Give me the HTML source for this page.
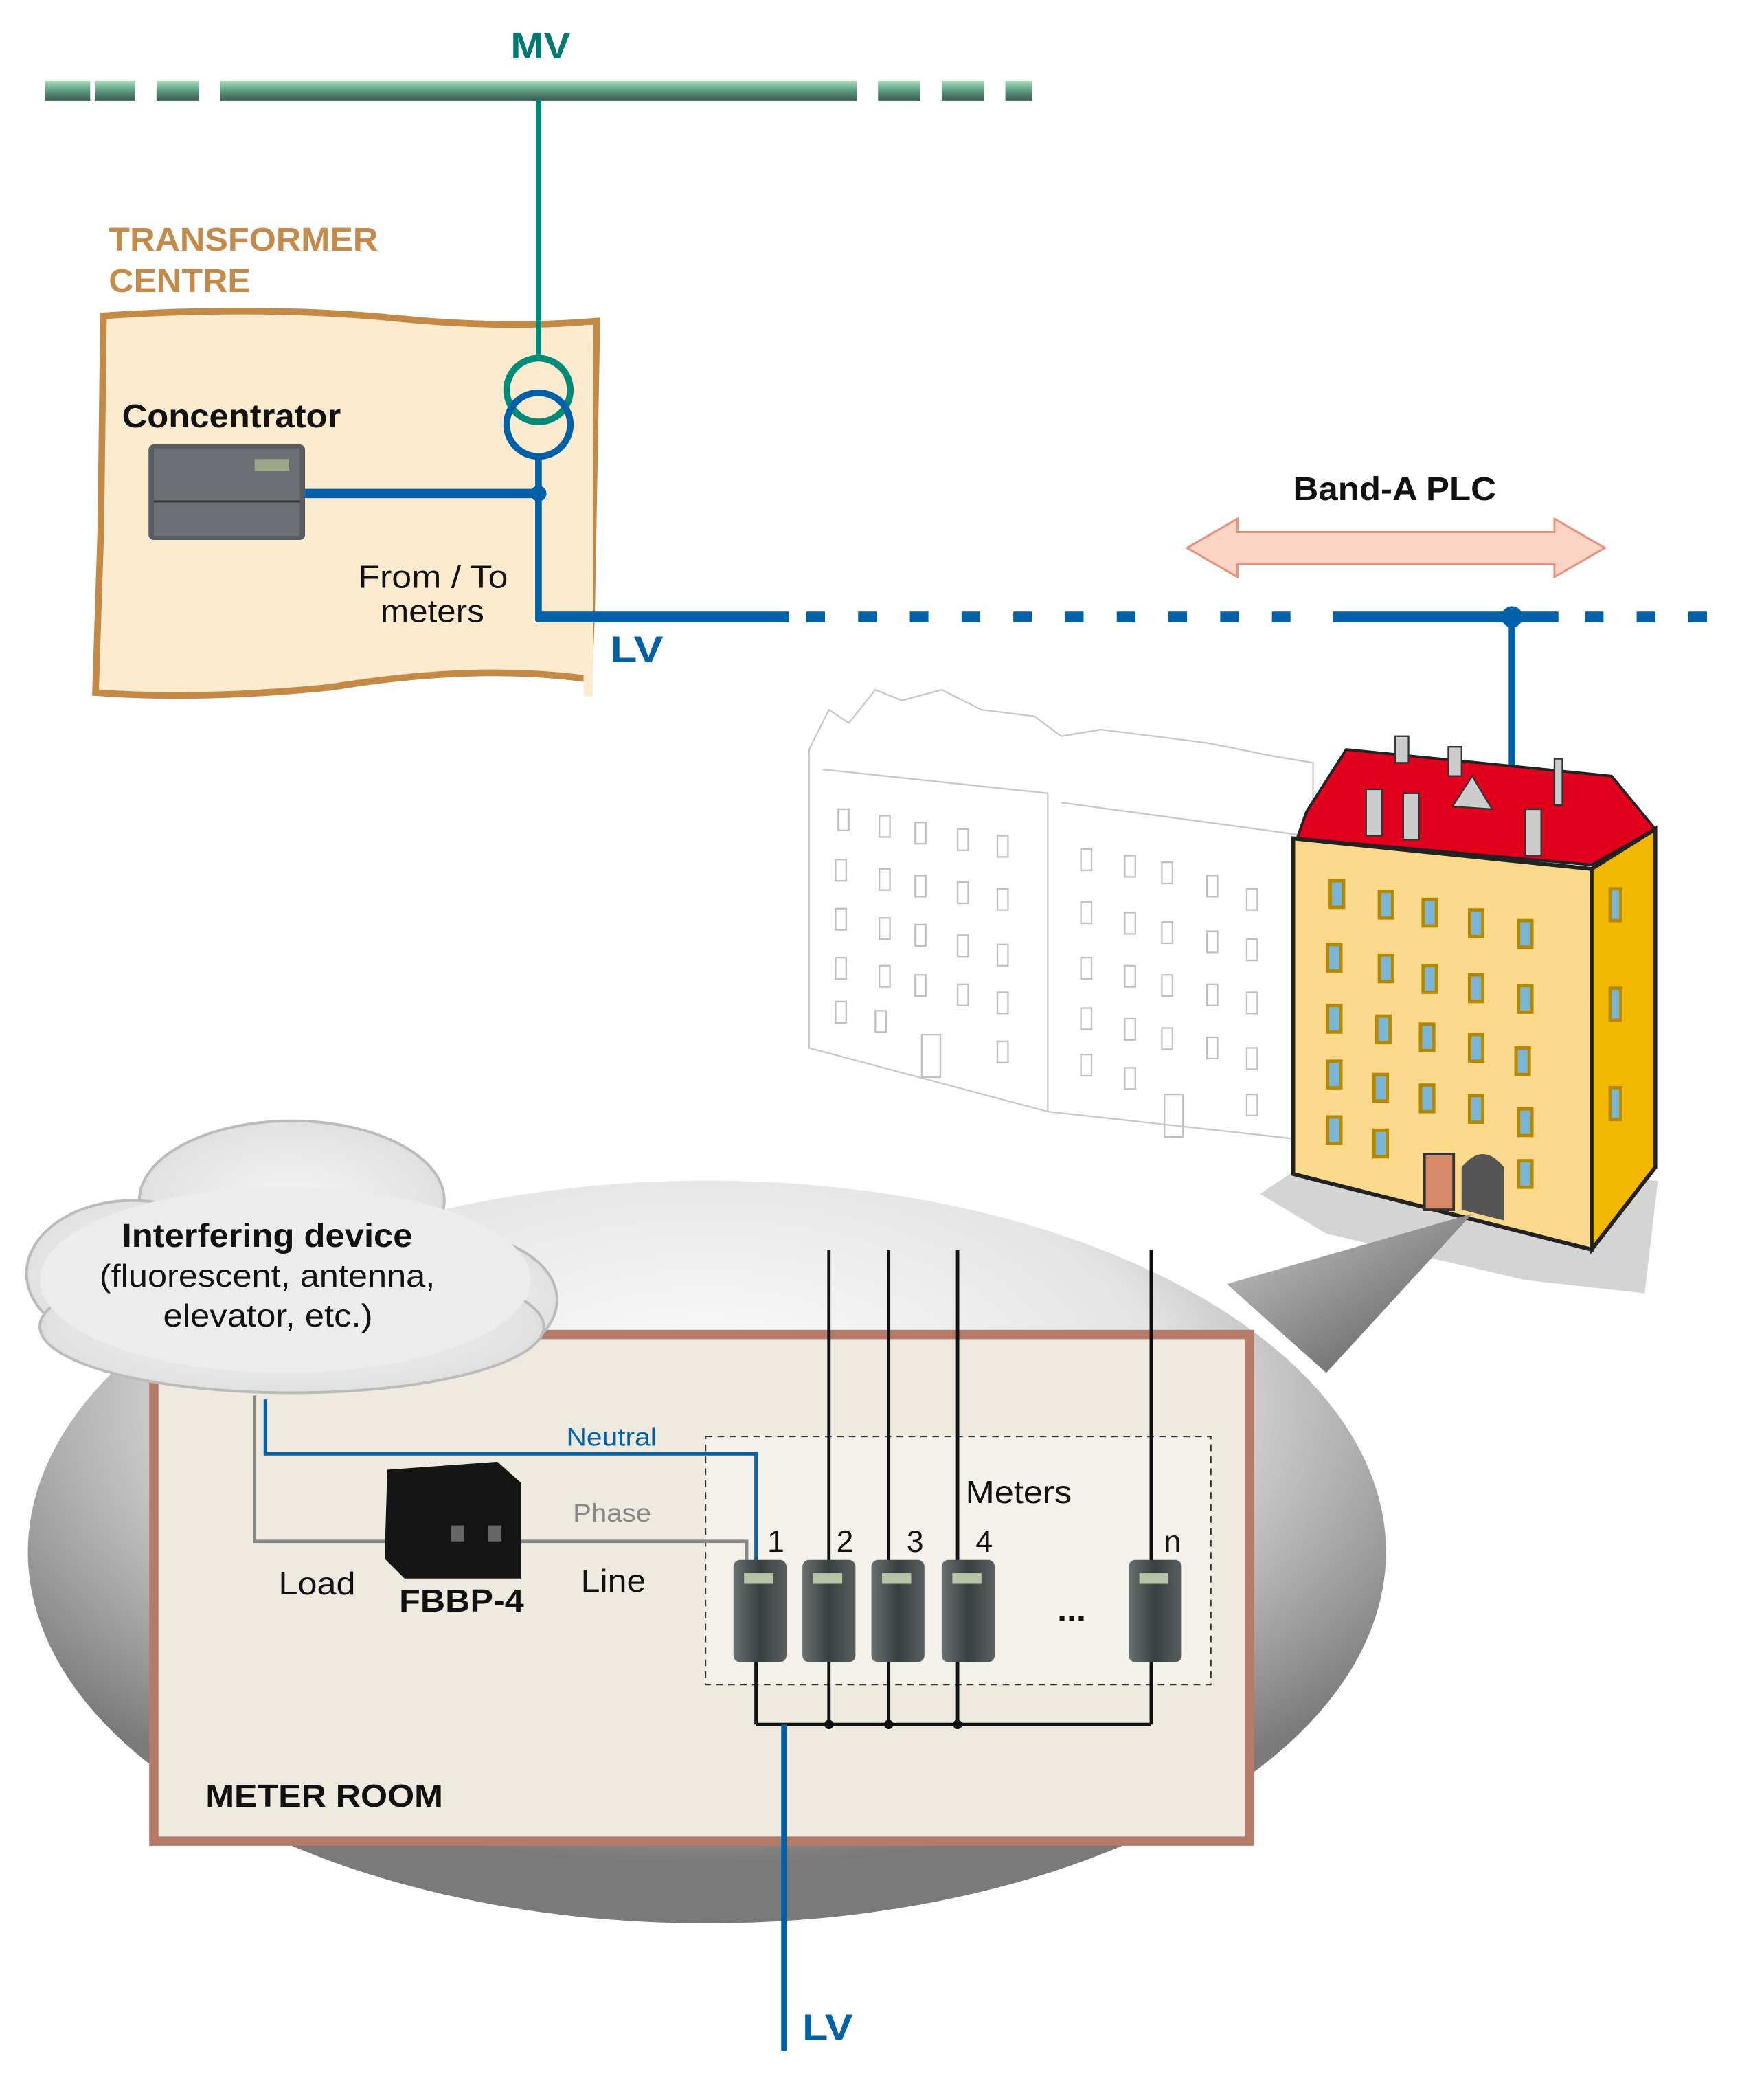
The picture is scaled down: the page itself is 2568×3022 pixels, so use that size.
<!DOCTYPE html>
<html><head><meta charset="utf-8"><style>
html,body{margin:0;padding:0;background:#fff;}
svg{display:block;}
text{font-family:"Liberation Sans",Arial,sans-serif;}
</style></head><body>
<svg width="2568" height="3022" viewBox="0 0 1330 1565" xmlns="http://www.w3.org/2000/svg">
<defs>
<linearGradient id="mv" x1="0" y1="0" x2="0" y2="1"><stop offset="0" stop-color="#a8dcb8"/><stop offset="0.5" stop-color="#5a9a80"/><stop offset="1" stop-color="#3a5a50"/></linearGradient>
<radialGradient id="ell" cx="0.5" cy="0.3" r="0.62"><stop offset="0" stop-color="#ffffff"/><stop offset="0.55" stop-color="#e4e4e4"/><stop offset="1" stop-color="#7a7a7a"/></radialGradient>
<linearGradient id="cone" x1="0" y1="0" x2="1" y2="1"><stop offset="0" stop-color="#c8c8c8"/><stop offset="1" stop-color="#555"/></linearGradient>
<linearGradient id="met" x1="0" y1="0" x2="1" y2="0"><stop offset="0" stop-color="#6a7070"/><stop offset="0.5" stop-color="#3a4040"/><stop offset="1" stop-color="#5a6060"/></linearGradient>
<radialGradient id="cl" cx="0.5" cy="0.5" r="0.6"><stop offset="0" stop-color="#f4f4f4"/><stop offset="0.8" stop-color="#e2e2e2"/><stop offset="1" stop-color="#c8c8c8"/></radialGradient>
</defs>

<!-- MV -->
<text x="385" y="44" font-size="28" font-weight="bold" fill="#007a70" textLength="45" lengthAdjust="spacingAndGlyphs">MV</text>
<g fill="url(#mv)">
<rect x="34" y="61" width="34" height="15"/><rect x="72" y="61" width="30" height="15"/><rect x="118" y="61" width="32" height="15"/>
<rect x="166" y="61" width="480" height="15"/><rect x="662" y="61" width="32" height="15"/><rect x="710" y="61" width="32" height="15"/><rect x="758" y="61" width="20" height="15"/>
</g>

<!-- transformer centre -->
<text x="82" y="189" font-size="25" font-weight="bold" fill="#c38a4a" textLength="203" lengthAdjust="spacingAndGlyphs">TRANSFORMER</text>
<text x="82" y="220" font-size="25" font-weight="bold" fill="#c38a4a" textLength="107" lengthAdjust="spacingAndGlyphs">CENTRE</text>
<path d="M78,238 Q200,230 300,240 Q380,248 450,242 L446,465 L444,512 Q360,500 250,518 Q150,528 72,522 L76,400 Z" fill="#fdebd0" stroke="#c48a45" stroke-width="5"/>
<rect x="440" y="245" width="7" height="280" fill="#fdebd0"/>
<line x1="406" y1="75" x2="406" y2="270" stroke="#008a78" stroke-width="4"/>
<circle cx="406" cy="294" r="24" fill="none" stroke="#008a78" stroke-width="5"/>
<circle cx="406" cy="320" r="24" fill="none" stroke="#0060a8" stroke-width="5"/>
<text x="92" y="322" font-size="25" font-weight="bold" fill="#111" textLength="165" lengthAdjust="spacingAndGlyphs">Concentrator</text>
<rect x="112" y="335" width="118" height="72" rx="4" fill="#585c60"/>
<rect x="116" y="338" width="110" height="66" fill="#6b6f73"/>
<line x1="116" y1="378" x2="226" y2="378" stroke="#333" stroke-width="1.5"/>
<rect x="192" y="346" width="26" height="9" fill="#9aa88a"/>
<line x1="230" y1="372" x2="406" y2="372" stroke="#0060a8" stroke-width="7"/>
<line x1="406" y1="344" x2="406" y2="468" stroke="#0060a8" stroke-width="5"/>
<circle cx="406" cy="372" r="6" fill="#0060a8"/>
<text x="270" y="443" font-size="24" fill="#111" textLength="113" lengthAdjust="spacingAndGlyphs">From / To</text>
<text x="287" y="469" font-size="24" fill="#111" textLength="78" lengthAdjust="spacingAndGlyphs">meters</text>
<text x="460" y="499" font-size="28" font-weight="bold" fill="#0060a8" textLength="40" lengthAdjust="spacingAndGlyphs">LV</text>

<!-- LV line -->
<line x1="404" y1="465" x2="595" y2="465" stroke="#0060a8" stroke-width="8"/>
<line x1="608" y1="465" x2="990" y2="465" stroke="#0060a8" stroke-width="8" stroke-dasharray="14,25"/>
<line x1="1005" y1="465" x2="1175" y2="465" stroke="#0060a8" stroke-width="8"/>
<line x1="1195" y1="465" x2="1312" y2="465" stroke="#0060a8" stroke-width="8" stroke-dasharray="14,25"/>
<circle cx="1140" cy="465" r="8" fill="#0060a8"/>
<line x1="1140" y1="465" x2="1140" y2="585" stroke="#0060a8" stroke-width="5"/>

<!-- Band-A PLC -->
<text x="975" y="377" font-size="25" font-weight="bold" fill="#111" textLength="153" lengthAdjust="spacingAndGlyphs">Band-A PLC</text>
<path d="M895,413 L933,391 L933,401 L1172,401 L1172,391 L1210,413 L1172,435 L1172,425 L933,425 L933,435 Z" fill="#fcd5c5" stroke="#e8907a" stroke-width="1.5"/>

<!-- white buildings -->
<g fill="#fff" stroke="#c8c8c8" stroke-width="1.2">
<path d="M610,565 L625,535 L640,545 L660,520 L680,528 L710,520 L740,535 L780,540 L800,555 L830,550 L870,555 L910,560 L960,570 L990,575 L990,860 L790,838 L610,790 Z"/>
<line x1="790" y1="598" x2="790" y2="838"/>
<line x1="620" y1="580" x2="790" y2="598"/><line x1="800" y1="605" x2="985" y2="630"/>
</g>
<g fill="none" stroke="#c0c0c0" stroke-width="1.2">
<rect x="632" y="610" width="8" height="16"/><rect x="663" y="615" width="8" height="16"/><rect x="690" y="620" width="8" height="16"/><rect x="722" y="625" width="8" height="16"/><rect x="752" y="630" width="8" height="16"/>
<rect x="630" y="648" width="8" height="16"/><rect x="663" y="655" width="8" height="16"/><rect x="690" y="660" width="8" height="16"/><rect x="722" y="665" width="8" height="16"/><rect x="752" y="670" width="8" height="16"/>
<rect x="630" y="685" width="8" height="16"/><rect x="663" y="692" width="8" height="16"/><rect x="690" y="697" width="8" height="16"/><rect x="722" y="705" width="8" height="16"/><rect x="752" y="712" width="8" height="16"/>
<rect x="630" y="722" width="8" height="16"/><rect x="663" y="728" width="8" height="16"/><rect x="690" y="735" width="8" height="16"/><rect x="722" y="742" width="8" height="16"/><rect x="752" y="748" width="8" height="16"/>
<rect x="630" y="755" width="8" height="16"/><rect x="660" y="762" width="8" height="16"/><rect x="695" y="780" width="14" height="32"/><rect x="752" y="785" width="8" height="16"/>
<rect x="815" y="640" width="8" height="16"/><rect x="848" y="645" width="8" height="16"/><rect x="876" y="650" width="8" height="16"/><rect x="910" y="660" width="8" height="16"/><rect x="940" y="670" width="8" height="16"/>
<rect x="815" y="680" width="8" height="16"/><rect x="848" y="688" width="8" height="16"/><rect x="876" y="695" width="8" height="16"/><rect x="910" y="702" width="8" height="16"/><rect x="940" y="708" width="8" height="16"/>
<rect x="815" y="722" width="8" height="16"/><rect x="848" y="728" width="8" height="16"/><rect x="876" y="735" width="8" height="16"/><rect x="910" y="742" width="8" height="16"/><rect x="940" y="748" width="8" height="16"/>
<rect x="815" y="760" width="8" height="16"/><rect x="848" y="768" width="8" height="16"/><rect x="876" y="775" width="8" height="16"/><rect x="910" y="782" width="8" height="16"/><rect x="940" y="790" width="8" height="16"/>
<rect x="815" y="795" width="8" height="16"/><rect x="848" y="805" width="8" height="16"/><rect x="878" y="825" width="14" height="32"/><rect x="940" y="825" width="8" height="16"/>
</g>

<!-- yellow building -->
<path d="M950,900 L980,880 L1250,890 L1240,975 L1150,965 L1000,930 Z" fill="#d4d4d4"/>
<path d="M985,612 L1015,565 L1215,585 L1248,625 L1200,652 L978,632 Z" fill="#e0001e" stroke="#222" stroke-width="2"/>
<g fill="#ccc" stroke="#333" stroke-width="1.2">
<rect x="1030" y="595" width="12" height="35"/><rect x="1058" y="598" width="12" height="35"/><rect x="1150" y="610" width="12" height="35"/><rect x="1052" y="555" width="10" height="20"/><rect x="1092" y="563" width="10" height="22"/><rect x="1172" y="572" width="6" height="35"/>
<path d="M1095,608 L1110,585 L1125,610 Z"/>
</g>
<path d="M975,632 L1200,655 L1200,942 L975,885 Z" fill="#fbd98c" stroke="#222" stroke-width="3"/>
<path d="M1200,655 L1248,625 L1248,880 L1200,942 Z" fill="#f2b800" stroke="#222" stroke-width="3"/>
<g fill="#7ab6d8" stroke="#b58800" stroke-width="2.5">
<rect x="1003" y="664" width="10" height="20"/><rect x="1040" y="672" width="10" height="20"/><rect x="1073" y="678" width="10" height="20"/><rect x="1108" y="686" width="10" height="20"/><rect x="1145" y="694" width="10" height="20"/>
<rect x="1001" y="712" width="10" height="20"/><rect x="1040" y="720" width="10" height="20"/><rect x="1073" y="728" width="10" height="20"/><rect x="1108" y="735" width="10" height="20"/><rect x="1145" y="743" width="10" height="20"/>
<rect x="1001" y="758" width="10" height="20"/><rect x="1038" y="766" width="10" height="20"/><rect x="1071" y="772" width="10" height="20"/><rect x="1108" y="780" width="10" height="20"/><rect x="1143" y="790" width="10" height="20"/>
<rect x="1001" y="800" width="10" height="20"/><rect x="1036" y="810" width="10" height="20"/><rect x="1071" y="818" width="10" height="20"/><rect x="1108" y="826" width="10" height="20"/><rect x="1145" y="836" width="10" height="20"/>
<rect x="1001" y="842" width="10" height="20"/><rect x="1036" y="852" width="10" height="20"/><rect x="1145" y="875" width="10" height="20"/>
<rect x="1214" y="670" width="8" height="24"/><rect x="1214" y="745" width="8" height="24"/><rect x="1214" y="820" width="8" height="24"/>
</g>
<rect x="1074" y="870" width="22" height="42" fill="#d88a6a" stroke="#333" stroke-width="2"/>
<path d="M1102,912 L1102,880 Q1118,860 1134,880 L1134,920 Z" fill="#555"/>

<!-- callout -->
<path d="M1110,915 L925,968 L1000,1035 Z" fill="url(#cone)"/>
<ellipse cx="533" cy="1170" rx="512" ry="280" fill="url(#ell)"/>

<!-- meter room -->
<rect x="116" y="1006" width="826" height="382" fill="#eeeae0" stroke="#b57a68" stroke-width="7"/>
<rect x="532" y="1083" width="381" height="187" fill="#f3f1ea" stroke="#333" stroke-width="1" stroke-dasharray="5,4"/>

<!-- cloud -->
<g fill="url(#cl)" stroke="#bbb" stroke-width="2">
<ellipse cx="220" cy="905" rx="115" ry="60"/>
<ellipse cx="100" cy="960" rx="80" ry="55"/>
<ellipse cx="340" cy="980" rx="80" ry="50"/>
<ellipse cx="220" cy="1000" rx="190" ry="50"/>
</g>
<ellipse cx="215" cy="965" rx="185" ry="70" fill="#ececec"/>
<text x="92" y="940" font-size="25" font-weight="bold" fill="#111" textLength="219" lengthAdjust="spacingAndGlyphs">Interfering device</text>
<text x="75" y="970" font-size="24" fill="#111" textLength="253" lengthAdjust="spacingAndGlyphs">(fluorescent, antenna,</text>
<text x="123" y="1000" font-size="24" fill="#111" textLength="158" lengthAdjust="spacingAndGlyphs">elevator, etc.)</text>

<!-- wiring -->
<polyline points="200,1055 200,1096 570,1096 570,1178" fill="none" stroke="#0060a8" stroke-width="2.5"/>
<polyline points="192,1052 192,1162 300,1162" fill="none" stroke="#888" stroke-width="2.5"/>
<polyline points="380,1162 563,1162 563,1178" fill="none" stroke="#888" stroke-width="2.5"/>
<text x="427" y="1090" font-size="19" fill="#0060a8" textLength="68" lengthAdjust="spacingAndGlyphs">Neutral</text>
<text x="432" y="1147" font-size="19" fill="#888" textLength="59" lengthAdjust="spacingAndGlyphs">Phase</text>
<path d="M292,1108 L375,1102 L393,1118 L393,1190 L305,1190 L290,1175 Z" fill="#151515"/>
<rect x="340" y="1150" width="10" height="12" fill="#666"/><rect x="368" y="1150" width="10" height="12" fill="#666"/>
<text x="210" y="1202" font-size="24" fill="#111" textLength="58" lengthAdjust="spacingAndGlyphs">Load</text>
<text x="301" y="1215" font-size="24" font-weight="bold" fill="#111" textLength="94" lengthAdjust="spacingAndGlyphs">FBBP-4</text>
<text x="438" y="1200" font-size="24" fill="#111" textLength="49" lengthAdjust="spacingAndGlyphs">Line</text>

<g stroke="#111" stroke-width="2.5" fill="none">
<line x1="625" y1="942" x2="625" y2="1300"/><line x1="670" y1="942" x2="670" y2="1300"/><line x1="722" y1="942" x2="722" y2="1300"/><line x1="868" y1="942" x2="868" y2="1300"/>
<line x1="570" y1="1250" x2="570" y2="1300"/>
<line x1="570" y1="1300" x2="868" y2="1300"/>
</g>
<circle cx="625" cy="1300" r="3.5" fill="#111"/><circle cx="670" cy="1300" r="3.5" fill="#111"/><circle cx="722" cy="1300" r="3.5" fill="#111"/>
<g>
<rect x="553" y="1176" width="40" height="77" rx="5" fill="url(#met)"/>
<rect x="605" y="1176" width="40" height="77" rx="5" fill="url(#met)"/>
<rect x="657" y="1176" width="40" height="77" rx="5" fill="url(#met)"/>
<rect x="710" y="1176" width="40" height="77" rx="5" fill="url(#met)"/>
<rect x="851" y="1176" width="40" height="77" rx="5" fill="url(#met)"/>
</g>
<g fill="#b8c4a8">
<rect x="561" y="1186" width="22" height="8"/><rect x="613" y="1186" width="22" height="8"/><rect x="665" y="1186" width="22" height="8"/><rect x="718" y="1186" width="22" height="8"/><rect x="859" y="1186" width="22" height="8"/>
</g>
<text x="728" y="1133" font-size="24" fill="#111" textLength="80" lengthAdjust="spacingAndGlyphs">Meters</text>
<g font-size="23" fill="#111" text-anchor="middle">
<text x="585" y="1170">1</text><text x="637" y="1170">2</text><text x="690" y="1170">3</text><text x="742" y="1170">4</text><text x="884" y="1170">n</text>
</g>
<text x="808" y="1222" font-size="26" font-weight="bold" fill="#111" text-anchor="middle">...</text>
<text x="155" y="1362" font-size="24" font-weight="bold" fill="#111" textLength="179" lengthAdjust="spacingAndGlyphs">METER ROOM</text>

<line x1="591" y1="1300" x2="591" y2="1546" stroke="#0060a8" stroke-width="4"/>
<text x="605" y="1538" font-size="28" font-weight="bold" fill="#0060a8" textLength="38" lengthAdjust="spacingAndGlyphs">LV</text>
</svg>
</body></html>
